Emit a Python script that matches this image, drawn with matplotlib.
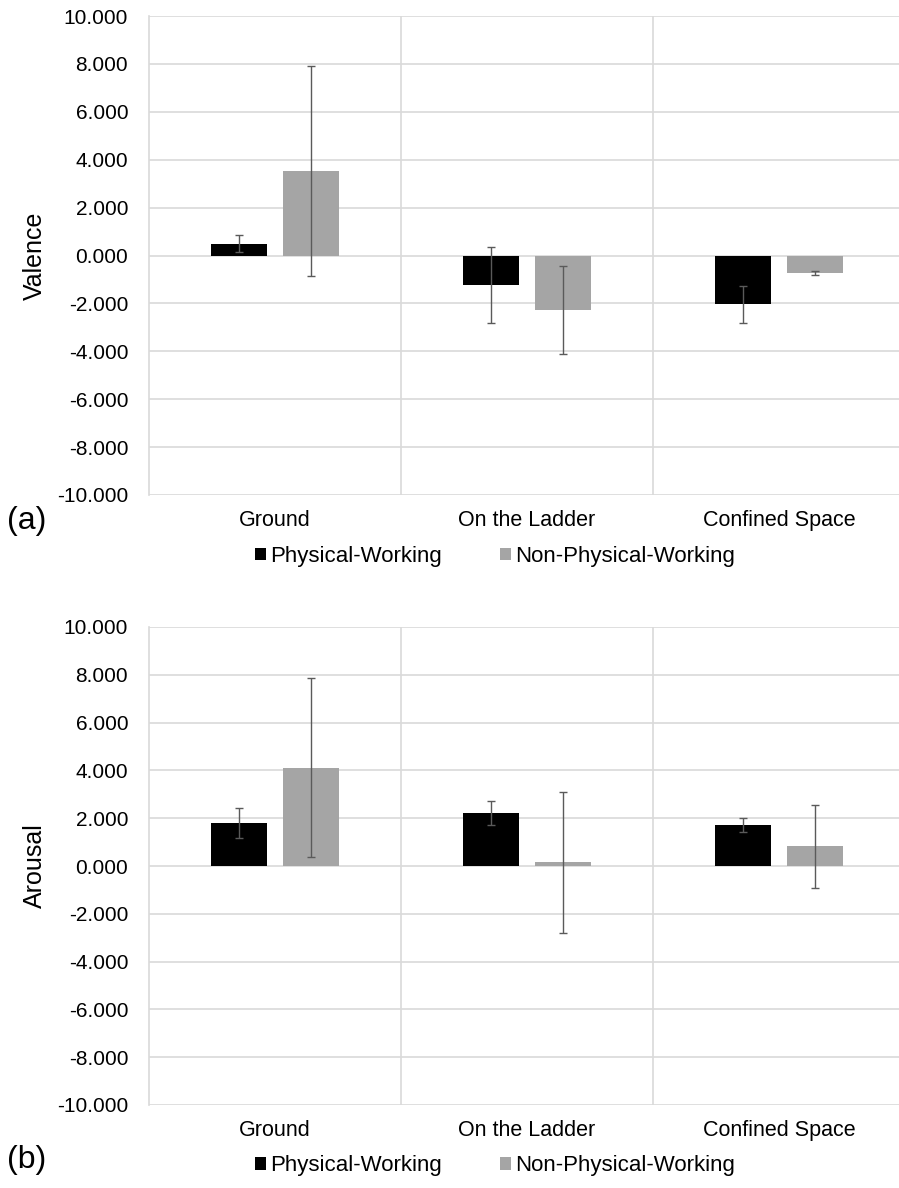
import matplotlib
matplotlib.use('Agg')
import matplotlib.pyplot as plt
from matplotlib.patches import Patch
import numpy as np

plt.rcParams['font.family'] = ['Liberation Sans', 'DejaVu Sans']

categories = ["Ground", "On the Ladder", "Confined Space"]
series_names = ["Physical-Working", "Non-Physical-Working"]

valence_phys = [0.50, -1.23, -2.03]
valence_phys_err = [0.34, 1.60, 0.77]
valence_nonphys = [3.53, -2.28, -0.72]
valence_nonphys_err = [4.40, 1.83, 0.08]

arousal_phys = [1.80, 2.20, 1.72]
arousal_phys_err = [0.61, 0.50, 0.29]
arousal_nonphys = [4.12, 0.15, 0.82]
arousal_nonphys_err = [3.73, 2.95, 1.72]

yticks = [-10, -8, -6, -4, -2, 0, 2, 4, 6, 8, 10]

W, H = 899, 1188
fig = plt.figure(figsize=(W / 100, H / 100), dpi=100)

colors = ['#000000', '#A5A5A5']
grid_col = '#D9D9D9'
err_col = '#5A5A5A'


def px_box(left, top, right, bottom):
    return [left / W, 1 - bottom / H, (right - left) / W, (bottom - top) / H]


def draw_panel(ax, phys, phys_err, nonphys, nonphys_err, ylabel, tag, label_y, legend_y, tag_y):
    x = np.arange(len(categories))
    off = 0.143
    bw = 0.222
    ax.bar(x - off, phys, bw, color=colors[0], zorder=3)
    ax.bar(x + off, nonphys, bw, color=colors[1], zorder=3)
    ax.errorbar(x - off, phys, yerr=phys_err, fmt='none', ecolor=err_col,
                elinewidth=1.0, capsize=3, capthick=1.0, zorder=4)
    ax.errorbar(x + off, nonphys, yerr=nonphys_err, fmt='none', ecolor=err_col,
                elinewidth=1.0, capsize=3, capthick=1.0, zorder=4)

    ax.set_xlim(-0.5, 2.5)
    ax.set_ylim(-10, 10)
    ax.set_yticks(yticks)
    ax.set_yticklabels([f"{v:.3f}" for v in yticks])
    ax.set_xticks(x)
    ax.set_xticklabels(categories)
    ax.set_xticks([0.5, 1.5], minor=True)
    ax.tick_params(axis='y', length=0, pad=15, labelsize=15)
    ax.tick_params(axis='x', which='both', length=0, pad=11, labelsize=15.5)
    ax.grid(True, axis='y', color=grid_col, linewidth=1.2, zorder=0)
    ax.grid(True, axis='x', which='minor', color=grid_col, linewidth=1.2, zorder=0)
    for s in ['top', 'right', 'bottom']:
        ax.spines[s].set_visible(False)
    ax.spines['left'].set_color(grid_col)
    ax.spines['left'].set_linewidth(1.2)

    fig.text(35 / W, 1 - label_y / H, ylabel, rotation=90, ha='center', va='center', fontsize=18)
    fig.text(7 / W, 1 - tag_y / H, tag, ha='left', va='center', fontsize=23)

    handles = [Patch(facecolor=c, edgecolor='none') for c in colors]
    ax.legend(handles, series_names, loc='center', ncol=2, frameon=False,
              bbox_to_anchor=(495 / W, 1 - legend_y / H), bbox_transform=fig.transFigure,
              fontsize=16, handlelength=0.5, handleheight=0.5, handletextpad=0.2,
              columnspacing=2.6)


ax1 = fig.add_axes(px_box(149, 16, 905, 495))
draw_panel(ax1, valence_phys, valence_phys_err, valence_nonphys, valence_nonphys_err,
           "Valence", "(a)", 255.5, 556.5, 521)

ax2 = fig.add_axes(px_box(149, 627, 905, 1105))
draw_panel(ax2, arousal_phys, arousal_phys_err, arousal_nonphys, arousal_nonphys_err,
           "Arousal", "(b)", 866, 1166, 1160)

fig.savefig('out.png', dpi=100, facecolor='white')
